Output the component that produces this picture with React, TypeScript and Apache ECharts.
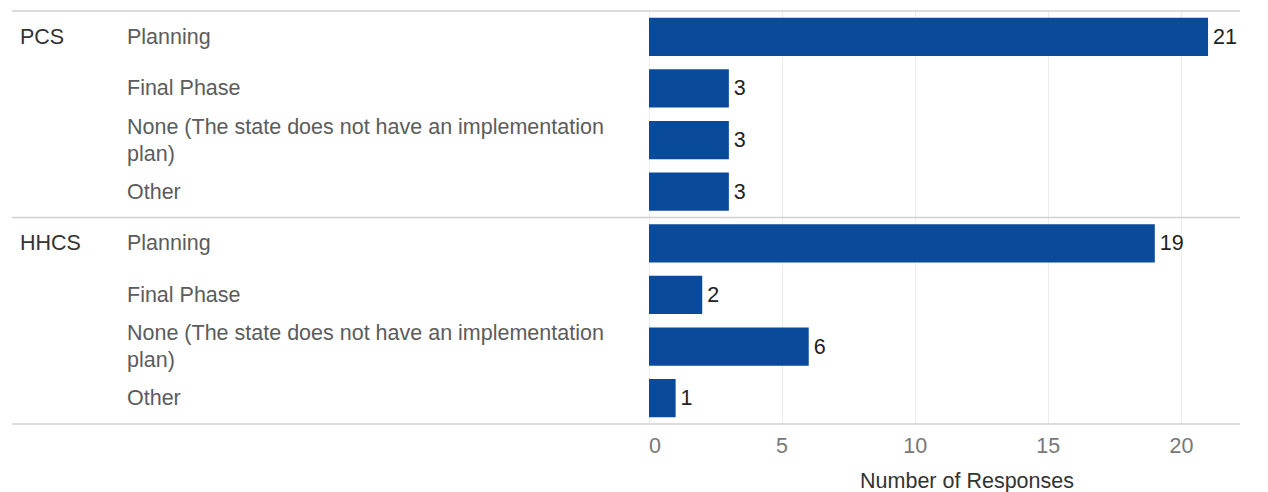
import React, { useEffect, useRef } from "react";
import * as echarts from "echarts";

const groups = ["PCS", "HHCS"];
const stages = [
  "Planning",
  "Final Phase",
  "None (The state does not have an implementation\nplan)",
  "Other",
];
const pcsValues = [21, 3, 3, 3];
const hhcsValues = [19, 2, 6, 1];
const groupValues = [pcsValues, hhcsValues];
const xTicks = [0, 5, 10, 15, 20];
const axisTitle = "Number of Responses";

const FONT = "'Liberation Sans', Arial, sans-serif";
const FS = 21.5;

export default function App() {
  const ref = useRef<HTMLDivElement>(null);
  useEffect(() => {
    if (!ref.current) return;
    const chart = echarts.init(ref.current, undefined, { renderer: "svg" });
    const categories: string[] = [];
    const values: number[] = [];
    groups.forEach((g, gi) => {
      stages.forEach((s, si) => {
        categories.push(g + "|" + s);
        values.push(groupValues[gi][si]);
      });
    });
    chart.setOption({
      animation: false,
      grid: {
        left: 649,
        right: 28,
        top: 11,
        bottom: 68,
        containLabel: false,
        outerBoundsMode: "none",
      },
      xAxis: {
        type: "value",
        min: xTicks[0],
        max: 22.2,
        interval: xTicks[1] - xTicks[0],
        axisLine: { show: false },
        axisTick: { show: false },
        splitLine: {
          show: true,
          showMaxLine: false,
          lineStyle: { color: "#ebebeb", width: 1 },
        },
        axisLabel: {
          color: "#777777",
          fontSize: FS,
          fontFamily: FONT,
          margin: 11,
          showMaxLabel: false,
          alignMinLabel: "left",
          formatter: (v: number) => (xTicks.indexOf(v) >= 0 ? String(v) : ""),
        },
        name: axisTitle,
        nameLocation: "middle",
        nameGap: 46,
        nameTextStyle: {
          color: "#333333",
          fontSize: FS,
          fontFamily: FONT,
          padding: [0, 0, 0, 45],
        },
      },
      yAxis: {
        type: "category",
        inverse: true,
        data: categories,
        axisLine: { show: false },
        axisTick: { show: false },
        splitLine: { show: false },
        axisLabel: {
          align: "left",
          margin: 629,
          interval: 0,
          fontFamily: FONT,
          formatter: (val: string) => {
            const [g, s] = val.split("|");
            const first = stages.indexOf(s) === 0;
            const lines = s.split("\n");
            return lines
              .map((ln, i) =>
                (i === 0 && first ? "{g|" + g + "}" : "{g| }") + "{l|" + ln + "}"
              )
              .join("\n");
          },
          rich: {
            g: {
              width: 107,
              color: "#333333",
              fontSize: FS,
              fontFamily: FONT,
              lineHeight: 27,
              align: "left",
            },
            l: {
              color: "#5c5c5c",
              fontSize: FS,
              fontFamily: FONT,
              lineHeight: 27,
              align: "left",
            },
          },
        },
      },
      series: [
        {
          type: "bar",
          data: values,
          barCategoryGap: "26%",
          itemStyle: { color: "#0A4A9B" },
          label: {
            show: true,
            position: "right",
            distance: 5,
            color: "#222222",
            fontSize: FS,
            fontFamily: FONT,
          },
        },
      ],
    });

    const yTop = chart.convertToPixel({ yAxisIndex: 0 }, categories[0]) as number;
    const y1 = chart.convertToPixel({ yAxisIndex: 0 }, categories[1]) as number;
    const step = y1 - yTop;
    const lineYs = [0, stages.length, categories.length].map((i) => {
      const c = chart.convertToPixel({ yAxisIndex: 0 }, categories[Math.min(i, categories.length - 1)]) as number;
      return i === categories.length ? c + step / 2 : c - step / 2;
    });
    chart.setOption({
      graphic: lineYs.map((y) => ({
        type: "line",
        shape: { x1: 12, y1: y, x2: 1240, y2: y },
        style: { stroke: "#d0d0d0", lineWidth: 1.5 },
        z: 10,
      })),
    });

    return () => chart.dispose();
  }, []);
  return (
    <div
      ref={ref}
      style={{ position: "fixed", left: 0, top: 0, width: 1268, height: 492, background: "#fff" }}
    />
  );
}
